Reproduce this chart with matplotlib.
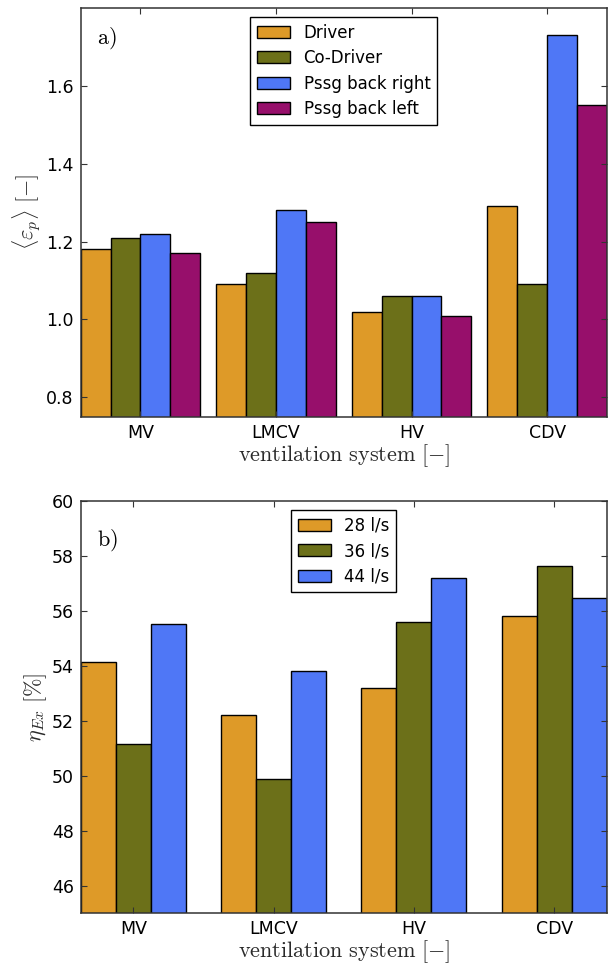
import numpy as np
import matplotlib
matplotlib.use("Agg")
from matplotlib import pyplot as plt

# ventilation systems on the x axis
systems = ["MV", "LMCV", "HV", "CDV"]

# panel a) mean exposure per occupant
seats = ["Driver", "Co-Driver", "Pssg back right", "Pssg back left"]
driver = [1.18, 1.09, 1.02, 1.29]
co_driver = [1.21, 1.12, 1.06, 1.09]
pssg_right = [1.22, 1.28, 1.06, 1.73]
pssg_left = [1.17, 1.25, 1.01, 1.55]

# panel b) exergy efficiency per flow rate
flows = ["28 l/s", "36 l/s", "44 l/s"]
flow_28 = [54.14, 52.21, 53.19, 55.82]
flow_36 = [51.14, 49.88, 55.60, 57.63]
flow_44 = [55.50, 53.80, 57.19, 56.47]

colors = ["#DE9A28", "#6C7019", "#4F77F6", "#970F6B"]

plt.rcParams["mathtext.fontset"] = "cm"
plt.rcParams["font.family"] = "DejaVu Sans"
plt.rcParams["font.size"] = 12

label_color = "#2a2a2a"


def grouped_bars(ax, series, names, width):
    n = len(series)
    x = np.arange(len(systems))
    for k, (vals, name) in enumerate(zip(series, names)):
        offset = (k - (n - 1) / 2.0) * width
        ax.bar(x + offset, vals, width, color=colors[k], edgecolor="black",
               linewidth=1.0, label=name)
    ax.set_xlim(-n * width / 2.0, len(systems) - 1 + n * width / 2.0)
    ax.set_xticks(x)
    ax.set_xticklabels(systems)
    ax.tick_params(direction="in", top=True, right=True, length=4, width=0.8,
                   labelsize=12.5, pad=5, colors="#333333", labelcolor="black")
    for s in ax.spines.values():
        s.set_linewidth(1.1)
        s.set_color("#333333")
    leg = ax.legend(loc="upper center", fontsize=12, fancybox=False,
                    edgecolor="black", framealpha=1, handlelength=2.0,
                    handleheight=0.75, labelspacing=0.45, borderaxespad=0.55)
    leg.get_frame().set_linewidth(1.0)
    ax.set_xlabel(r"$\mathrm{ventilation\ system}\ [-]$", fontsize=16,
                  color=label_color, labelpad=0)


fig = plt.figure(figsize=(6.16, 9.65), dpi=100)

ax1 = fig.add_axes([0.131, 0.568, 0.854, 0.424])
grouped_bars(ax1, [driver, co_driver, pssg_right, pssg_left], seats, 0.22)
ax1.set_ylim(0.75, 1.8)
ax1.set_yticks([0.8, 1.0, 1.2, 1.4, 1.6])
ax1.set_ylabel(r"$\langle\varepsilon_p\rangle\ [-]$", fontsize=16,
               color=label_color, labelpad=2)
ax1.text(0.031, 0.925, r"$\mathrm{a)}$", transform=ax1.transAxes,
         fontsize=16, va="center", ha="left")

ax2 = fig.add_axes([0.131, 0.0536, 0.854, 0.4275])
grouped_bars(ax2, [flow_28, flow_36, flow_44], flows, 0.25)
ax2.set_ylim(45, 60)
ax2.set_yticks([46, 48, 50, 52, 54, 56, 58, 60])
ax2.set_ylabel(r"$\eta_{Ex}\ [\%]$", fontsize=16, color=label_color,
               labelpad=2)
ax2.text(0.031, 0.905, r"$\mathrm{b)}$", transform=ax2.transAxes,
         fontsize=16, va="center", ha="left")

fig.savefig("out.png", dpi=100)
